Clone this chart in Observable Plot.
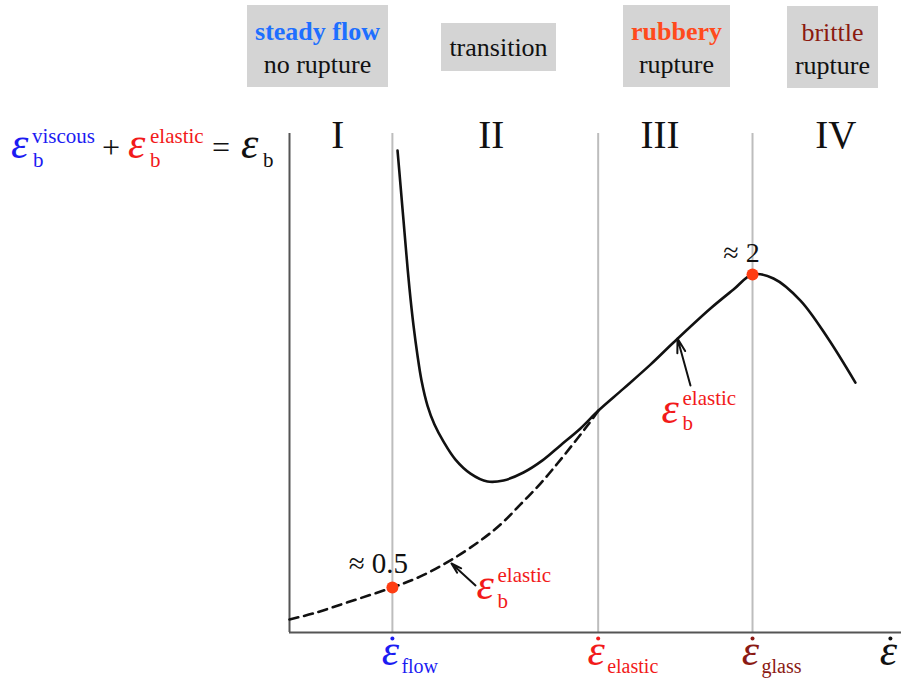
<!DOCTYPE html>
<html>
<head>
<meta charset="utf-8">
<script src="https://cdn.jsdelivr.net/npm/d3@7"></script>
<script src="https://cdn.jsdelivr.net/npm/@observablehq/plot@0.6"></script>
<style>
  body { margin: 0; background: #fff; }
  #wrap { position: relative; width: 901px; height: 679px; overflow: hidden;
          font-family: 'Liberation Serif', 'Times New Roman', serif; }
  #wrap > svg { position: absolute; left: 0; top: 0; }
  .box { position: absolute; box-sizing: border-box; background: #d4d4d4; text-align: center;
         font-size: 26px; line-height: 33px; color: #111; white-space: nowrap;
         font-family: 'Liberation Serif', 'Times New Roman', serif; }
  .box b { font-weight: bold; }
</style>
</head>
<body>
<div id="wrap"></div>
<script>
// Strain rate (log units) and total strain at break, ε_b = ε_b^viscous + ε_b^elastic
const rateTotal   = [1.050, 1.079, 1.108, 1.137, 1.166, 1.205, 1.244, 1.283, 1.341, 1.409,
                     1.497, 1.613, 1.759, 1.924, 2.080, 2.274, 2.459, 2.633, 2.828, 3.003,
                     3.246, 3.508, 3.732, 4.091, 4.315, 4.500, 4.704, 4.966, 5.228, 5.500];
const strainTotal = [2.594, 2.427, 2.259, 2.091, 1.933, 1.756, 1.612, 1.492, 1.372, 1.281,
                     1.199, 1.113, 1.046, 1.008, 1.013, 1.051, 1.109, 1.181, 1.262, 1.348,
                     1.453, 1.568, 1.674, 1.837, 1.928, 2.000, 1.981, 1.875, 1.698, 1.482];

// Elastic contribution alone below the elastic rate
const rateElastic   = [0, 0.233, 0.564, 1.0, 1.273, 1.565, 1.856, 2.051, 2.245, 2.439, 2.604, 2.760, 2.896, 3.003];
const strainElastic = [0.347, 0.376, 0.429, 0.5, 0.553, 0.630, 0.725, 0.802, 0.898, 0.998, 1.094, 1.190, 1.276, 1.348];

// Characteristic rates on the x axis
const rateTicks = [1, 3, 4.5];
const rateNames = ["flow", "elastic", "glass"];

// Marked values of the strain at break
const markRates   = [1, 4.5];
const markStrains = [0.5, 2];
const markLabels  = ["≈ 0.5", "≈ 2"];

// Regimes
const regimeNames   = ["I", "II", "III", "IV"];
const regimeCenters = [0.47, 1.96, 3.60, 5.31];

const xDomain = [0, 5.948];
const yDomain = [0.2843, 2.6757];

const tickColor = {flow: "#1c1cf2", elastic: "#f21a1a", glass: "#8b1a14"};
const red = "#f21a1a";
const serif = "'Liberation Serif', 'Times New Roman', serif";
const epsSize = 44;

const totalRows   = rateTotal.map((x, i) => ({x, y: strainTotal[i]}));
const elasticRows = rateElastic.map((x, i) => ({x, y: strainElastic[i]}));
const markRows    = markRates.map((x, i) => ({x, y: markStrains[i], label: markLabels[i]}));
const tickRows    = rateTicks.map((x, i) => ({x, name: rateNames[i], color: tickColor[rateNames[i]]}))
                      .concat([{x: 5.84, name: "", color: "#111"}]);
const regimeRows  = regimeNames.map((name, i) => ({x: regimeCenters[i], name}));

// Annotation anchors for the two ε_b^elastic labels and their arrows
const elasticNotes = [
  {x: 1.827, y: 0.447, x1: 1.808, y1: 0.510, x2: 1.574, y2: 0.615},
  {x: 3.625, y: 1.286, x1: 3.897, y1: 1.468, x2: 3.771, y2: 1.693}
];

const noteText = (rows, dy, text) => Plot.text(rows, {x: "x", y: "y", text: () => text, fontSize: 21,
  textAnchor: "start", lineAnchor: "bottom", dx: 20, dy, fill: red});

const plot = Plot.plot({
  width: 901,
  height: 679,
  marginTop: 133,
  marginBottom: 47,
  marginLeft: 289,
  marginRight: 0,
  x: {domain: xDomain, axis: null},
  y: {domain: yDomain, axis: null},
  color: {type: "identity"},
  style: {fontFamily: serif, background: "transparent", overflow: "visible"},
  marks: [
    // regime boundaries
    Plot.ruleX(rateTicks, {stroke: "#bdbdbd", strokeWidth: 2}),
    // axes
    Plot.ruleX([xDomain[0]], {stroke: "#555", strokeWidth: 2}),
    Plot.ruleY([yDomain[0]], {stroke: "#555", strokeWidth: 2}),
    // curves
    Plot.line(elasticRows, {x: "x", y: "y", curve: "catmull-rom", stroke: "#111",
      strokeWidth: 2.6, strokeDasharray: "9,6"}),
    Plot.line(totalRows, {x: "x", y: "y", curve: "catmull-rom", stroke: "#111", strokeWidth: 2.6}),
    // marked points
    Plot.dot(markRows, {x: "x", y: "y", r: 6, fill: "#ff3d12"}),
    Plot.text(markRows.slice(0, 1), {x: "x", y: "y", text: "label", fontSize: 29, lineAnchor: "bottom",
      dx: -14, dy: -14, fill: "#111"}),
    Plot.text(markRows.slice(1), {x: "x", y: "y", text: "label", fontSize: 28, lineAnchor: "bottom",
      dx: -11, dy: -12, fill: "#111"}),
    // ε_b^elastic annotations
    Plot.arrow(elasticNotes, {x1: "x1", y1: "y1", x2: "x2", y2: "y2", stroke: "#111",
      strokeWidth: 2, headLength: 11, headAngle: 32}),
    Plot.text(elasticNotes, {x: "x", y: "y", text: () => "ε", fontSize: epsSize, fontStyle: "italic",
      textAnchor: "start", lineAnchor: "bottom", dx: -1, fill: red}),
    noteText(elasticNotes.slice(0, 1), -17, "elastic"),
    noteText(elasticNotes.slice(0, 1), 9, "b"),
    noteText(elasticNotes.slice(1), -18, "elastic"),
    noteText(elasticNotes.slice(1), 7, "b"),
    // regime numerals
    Plot.text(regimeRows, {x: "x", y: () => yDomain[1], text: "name", fontSize: 39,
      lineAnchor: "bottom", dy: 14, fill: "#111"}),
    // rate tick labels: ε with a dot above and a subscript
    Plot.text(tickRows, {x: "x", y: () => yDomain[0], text: () => "ε", fill: "color",
      fontSize: epsSize, fontStyle: "italic", lineAnchor: "bottom", dx: -2, dy: 32}),
    Plot.dot(tickRows, {x: "x", y: () => yDomain[0], fill: "color", r: 2, dx: 0, dy: 6}),
    Plot.text(tickRows, {x: "x", y: () => yDomain[0], text: "name", fill: "color",
      fontSize: 20, textAnchor: "start", lineAnchor: "bottom", dx: 9, dy: 40})
  ]
});

const wrap = document.getElementById("wrap");
wrap.appendChild(plot);

// Regime headers
const headers = [
  {left: 247, top: 5, width: 141, height: 82, pad: 10,
   html: '<b style="color:#1e6fff">steady flow</b><br>no rupture'},
  {left: 441, top: 23, width: 115, height: 48, pad: 8, html: 'transition'},
  {left: 623, top: 5, width: 107, height: 82, pad: 10,
   html: '<b style="color:#ff4a1c">rubbery</b><br>rupture'},
  {left: 787, top: 6, width: 91, height: 82, pad: 10,
   html: '<span style="color:#8b1a0e">brittle</span><br>rupture'}
];
for (const h of headers) {
  const div = document.createElement("div");
  div.className = "box";
  div.style.left = h.left + "px";
  div.style.top = h.top + "px";
  div.style.width = h.width + "px";
  div.style.height = h.height + "px";
  div.style.paddingTop = h.pad + "px";
  div.innerHTML = h.html;
  wrap.appendChild(div);
}

// Strain-at-break sum rule, set beside the vertical axis
const ns = "http://www.w3.org/2000/svg";
const eq = document.createElementNS(ns, "svg");
eq.setAttribute("width", 290);
eq.setAttribute("height", 60);
eq.style.top = "120px";
eq.style.fontFamily = serif;
const pieces = [
  {t: "ε", x: 11, y: 38, s: epsSize, c: "#1c1cf2", i: true},
  {t: "viscous", x: 32, y: 23, s: 21, c: "#1c1cf2"},
  {t: "b", x: 33, y: 47, s: 21, c: "#1c1cf2"},
  {t: "+", x: 102, y: 38, s: 32, c: "#111"},
  {t: "ε", x: 128, y: 38, s: epsSize, c: red, i: true},
  {t: "elastic", x: 150, y: 23, s: 21, c: red},
  {t: "b", x: 150, y: 47, s: 21, c: red},
  {t: "=", x: 212, y: 38, s: 32, c: "#111"},
  {t: "ε", x: 241, y: 38, s: epsSize, c: "#111", i: true},
  {t: "b", x: 263, y: 47, s: 21, c: "#111"}
];
for (const p of pieces) {
  const el = document.createElementNS(ns, "text");
  el.setAttribute("x", p.x);
  el.setAttribute("y", p.y);
  el.setAttribute("font-size", p.s);
  el.setAttribute("fill", p.c);
  if (p.i) el.setAttribute("font-style", "italic");
  el.textContent = p.t;
  eq.appendChild(el);
}
wrap.appendChild(eq);
</script>
</body>
</html>
